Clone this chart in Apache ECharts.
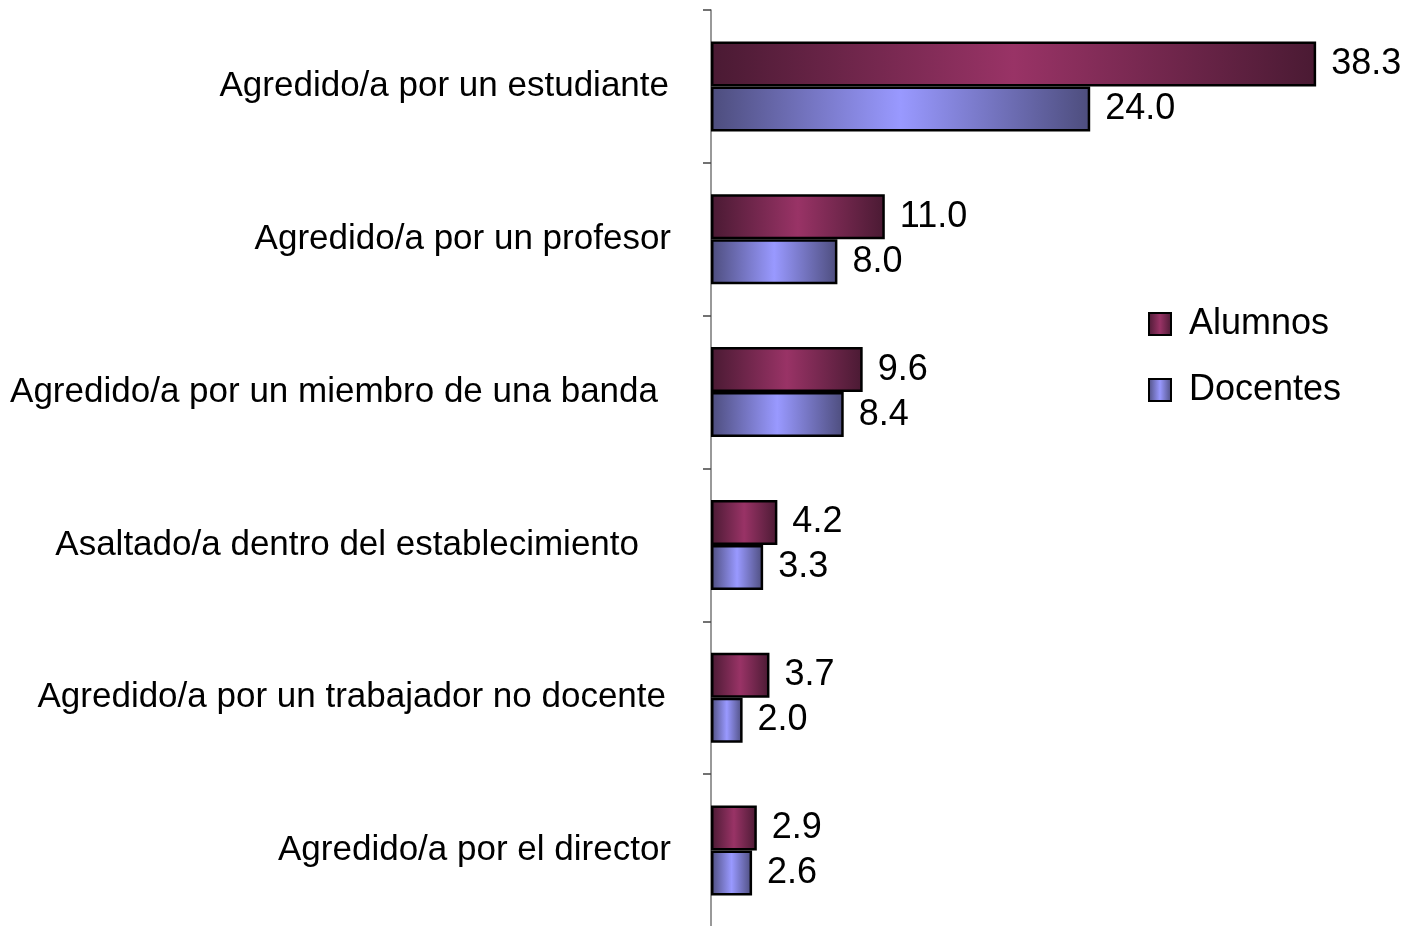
<!DOCTYPE html>
<html>
<head>
<meta charset="utf-8">
<script src="https://cdn.jsdelivr.net/npm/echarts@6/dist/echarts.min.js"></script>
<style>
  html, body { margin: 0; padding: 0; background: #fff; }
  #chart { width: 1408px; height: 926px; }
</style>
</head>
<body>
<div id="chart"></div>
<script>
const categories = [
  'Agredido/a por un estudiante',
  'Agredido/a por un profesor',
  'Agredido/a por un miembro de una banda',
  'Asaltado/a dentro del establecimiento',
  'Agredido/a por un trabajador no docente',
  'Agredido/a por el director'
]
const alumnos = [38.3, 11.0, 9.6, 4.2, 3.7, 2.9]
const docentes = [24.0, 8.0, 8.4, 3.3, 2.0, 2.6]

// extra right padding per label, the source does not line them up exactly
const labelPad = [2, 0, 13, 32, 5, 0]

function barGradient(edge, mid) {
  return new echarts.graphic.LinearGradient(0, 0, 1, 0, [
    { offset: 0, color: edge },
    { offset: 0.5, color: mid },
    { offset: 1, color: edge }
  ])
}

const chart = echarts.init(document.getElementById('chart'))

const font = 'Arial, "Liberation Sans", sans-serif'

function valueLabel() {
  return {
    show: true,
    position: 'right',
    distance: 15,
    fontSize: 36,
    color: '#000',
    fontFamily: font,
    formatter: function (p) { return p.value.toFixed(1) }
  }
}

chart.setOption({
  animation: false,
  textStyle: { fontFamily: font },
  legend: {
    orient: 'vertical',
    left: 1148,
    top: 306,
    padding: 0,
    itemWidth: 22,
    itemHeight: 22,
    itemGap: 30,
    icon: 'rect',
    textStyle: { fontSize: 36, color: '#000', lineHeight: 36, padding: [0, 0, 0, 13], fontFamily: font },
    data: ['Alumnos', 'Docentes']
  },
  grid: {
    left: 711,
    top: 10,
    width: 632,
    height: 917,
    containLabel: false,
    outerBoundsMode: 'none'
  },
  xAxis: {
    type: 'value',
    min: 0,
    max: 40,
    show: false
  },
  yAxis: {
    type: 'category',
    inverse: true,
    data: categories.map(function (c, i) {
      return { value: c, textStyle: { padding: [0, labelPad[i], 0, 0] } }
    }),
    axisLine: { show: true, lineStyle: { color: '#777', width: 1.5 } },
    axisTick: { show: true, length: 8, inside: false, lineStyle: { color: '#444', width: 1.5 } },
    axisLabel: { fontSize: 35, color: '#000', margin: 40, fontFamily: font },
    splitLine: { show: false }
  },
  series: [
    {
      name: 'Alumnos',
      type: 'bar',
      data: alumnos,
      barWidth: 45,
      barGap: '0%',
      itemStyle: {
        color: barGradient('#4a1a33', '#993366'),
        borderColor: '#000',
        borderWidth: 2.5
      },
      label: valueLabel()
    },
    {
      name: 'Docentes',
      type: 'bar',
      data: docentes,
      barWidth: 45,
      barGap: '0%',
      itemStyle: {
        color: barGradient('#4d4d7d', '#9999ff'),
        borderColor: '#000',
        borderWidth: 2.5
      },
      label: valueLabel()
    }
  ]
})
</script>
</body>
</html>
